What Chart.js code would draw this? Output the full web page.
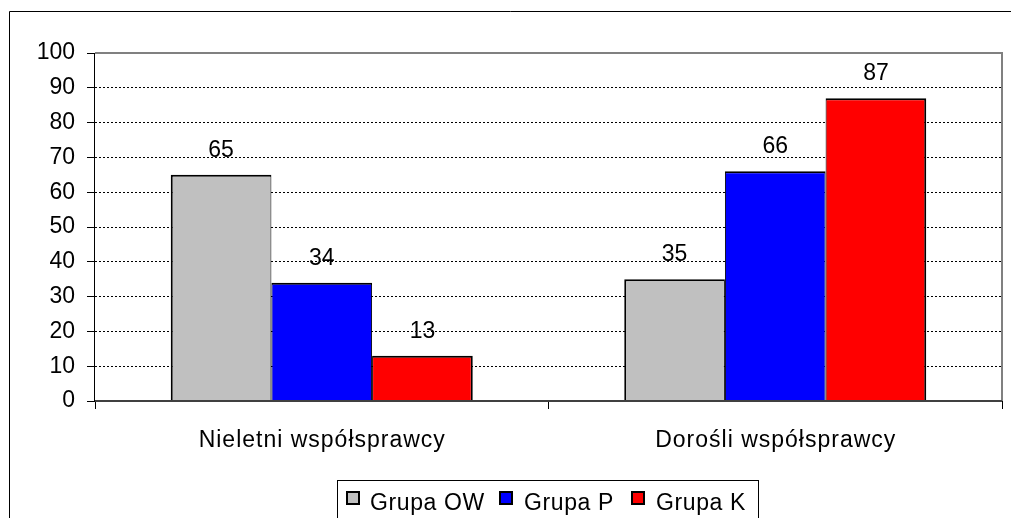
<!DOCTYPE html>
<html>
<head>
<meta charset="utf-8">
<title>Współsprawcy</title>
<script src="https://cdn.jsdelivr.net/npm/chart.js@4/dist/chart.umd.min.js"></script>
<style>
  html, body { margin: 0; padding: 0; background: #fff; overflow: hidden; }
  #chart { display: block; }
</style>
</head>
<body>
<canvas id="chart" width="1011" height="518"></canvas>
<script>
// Data
const categories = ["Nieletni współsprawcy", "Dorośli współsprawcy"];
const seriesNames = ["Grupa OW", "Grupa P", "Grupa K"];
const valuesOW = [65, 35];
const valuesP = [34, 66];
const valuesK = [13, 87];
const yTicks = [0, 10, 20, 30, 40, 50, 60, 70, 80, 90, 100];

const colors = ["#C0C0C0", "#0000FF", "#FF0000"];
const FONT = "'Liberation Sans', Arial, sans-serif";

// Frame, plot border, category labels, value labels and the boxed legend
const decorPlugin = {
    id: "decor",
    afterDraw(chart) {
        const ctx = chart.ctx;
        const area = chart.chartArea;
        ctx.save();

        // outer chart frame (runs past the right and bottom edges)
        ctx.strokeStyle = "#000";
        ctx.lineWidth = 1;
        ctx.beginPath();
        ctx.moveTo(9.5, chart.height + 5);
        ctx.lineTo(9.5, 11.5);
        ctx.lineTo(chart.width + 5, 11.5);
        ctx.stroke();

        // plot area border: gray top/right, black left, dark bottom
        ctx.strokeStyle = "#808080";
        ctx.lineWidth = 2;
        ctx.beginPath();
        ctx.moveTo(area.left, area.top);
        ctx.lineTo(area.right, area.top);
        ctx.lineTo(area.right, area.bottom);
        ctx.stroke();
        ctx.strokeStyle = "#000";
        ctx.lineWidth = 1;
        ctx.beginPath();
        ctx.moveTo(area.left - 0.5, area.top);
        ctx.lineTo(area.left - 0.5, area.bottom);
        ctx.stroke();
        ctx.strokeStyle = "#404040";
        ctx.lineWidth = 2;
        ctx.beginPath();
        ctx.moveTo(area.left, area.bottom);
        ctx.lineTo(area.right, area.bottom);
        ctx.stroke();

        // category labels (a little letter spacing, like the original)
        const xScale = chart.scales.x;
        ctx.fillStyle = "#000";
        ctx.font = "23px " + FONT;
        ctx.textAlign = "center";
        ctx.textBaseline = "alphabetic";
        ctx.letterSpacing = "1px";
        categories.forEach((name, i) => {
            ctx.fillText(name, xScale.getPixelForValue(i) + 0.5, 447);
        });
        ctx.letterSpacing = "0px";

        // value labels above bars
        chart.data.datasets.forEach((ds, i) => {
            const meta = chart.getDatasetMeta(i);
            meta.data.forEach((bar, j) => {
                ctx.fillText(String(ds.data[j]), bar.x, bar.y - 18);
            });
        });

        // legend box
        ctx.strokeStyle = "#000";
        ctx.lineWidth = 1;
        ctx.strokeRect(337.5, 480.5, 421, 60);
        const swatchX = [347, 500, 632];
        const textX = [370, 524, 656];
        ctx.textAlign = "left";
        ctx.letterSpacing = "0.6px";
        seriesNames.forEach((name, i) => {
            ctx.fillStyle = colors[i];
            ctx.fillRect(swatchX[i], 492, 12, 12);
            ctx.strokeStyle = "#000";
            ctx.lineWidth = 2;
            ctx.strokeRect(swatchX[i], 492, 12, 12);
            ctx.fillStyle = "#000";
            ctx.fillText(name, textX[i], 510);
        });

        ctx.restore();
    }
};

// shared edges between neighbouring bars get one 2px line
const barBorder = ctx => ({
    top: 2,
    left: ctx.datasetIndex === 0 ? 2 : 1,
    bottom: 0,
    right: ctx.datasetIndex === 2 ? 2 : 1
});

new Chart(document.getElementById("chart"), {
    type: "bar",
    data: {
        labels: categories,
        datasets: [
            { label: seriesNames[0], data: valuesOW, backgroundColor: colors[0] },
            { label: seriesNames[1], data: valuesP, backgroundColor: colors[1] },
            { label: seriesNames[2], data: valuesK, backgroundColor: colors[2] }
        ].map(ds => Object.assign(ds, {
            borderColor: "#000",
            borderWidth: barBorder,
            borderSkipped: false,
            categoryPercentage: 0.666,
            barPercentage: 1.0
        }))
    },
    options: {
        responsive: false,
        animation: false,
        layout: { padding: { top: 53, right: 9, bottom: 0, left: 0 } },
        plugins: {
            legend: { display: false },
            tooltip: { enabled: false }
        },
        scales: {
            x: {
                offset: true,
                afterFit: scale => { scale.height = 117; },
                grid: {
                    display: true,
                    offset: true,
                    drawOnChartArea: false,
                    drawTicks: true,
                    tickLength: 8,
                    tickColor: "#000",
                    color: "#000"
                },
                border: { display: false },
                ticks: {
                    display: false,
                    font: { family: FONT, size: 23 }
                }
            },
            y: {
                min: 0,
                max: 100,
                afterFit: scale => { scale.width = 95; },
                afterBuildTicks: scale => {
                    scale.ticks = yTicks.map(v => ({ value: v }));
                },
                grid: {
                    color: c => (c.tick && (c.tick.value === 0 || c.tick.value === 100)) ? "rgba(0,0,0,0)" : "#000",
                    lineWidth: 1,
                    drawTicks: true,
                    tickLength: 8,
                    tickColor: "#000",
                    tickBorderDash: []
                },
                border: { display: false, dash: [2, 2] },
                ticks: {
                    color: "#000",
                    padding: 12,
                    font: { family: FONT, size: 23 }
                }
            }
        }
    },
    plugins: [decorPlugin]
});
</script>
</body>
</html>
